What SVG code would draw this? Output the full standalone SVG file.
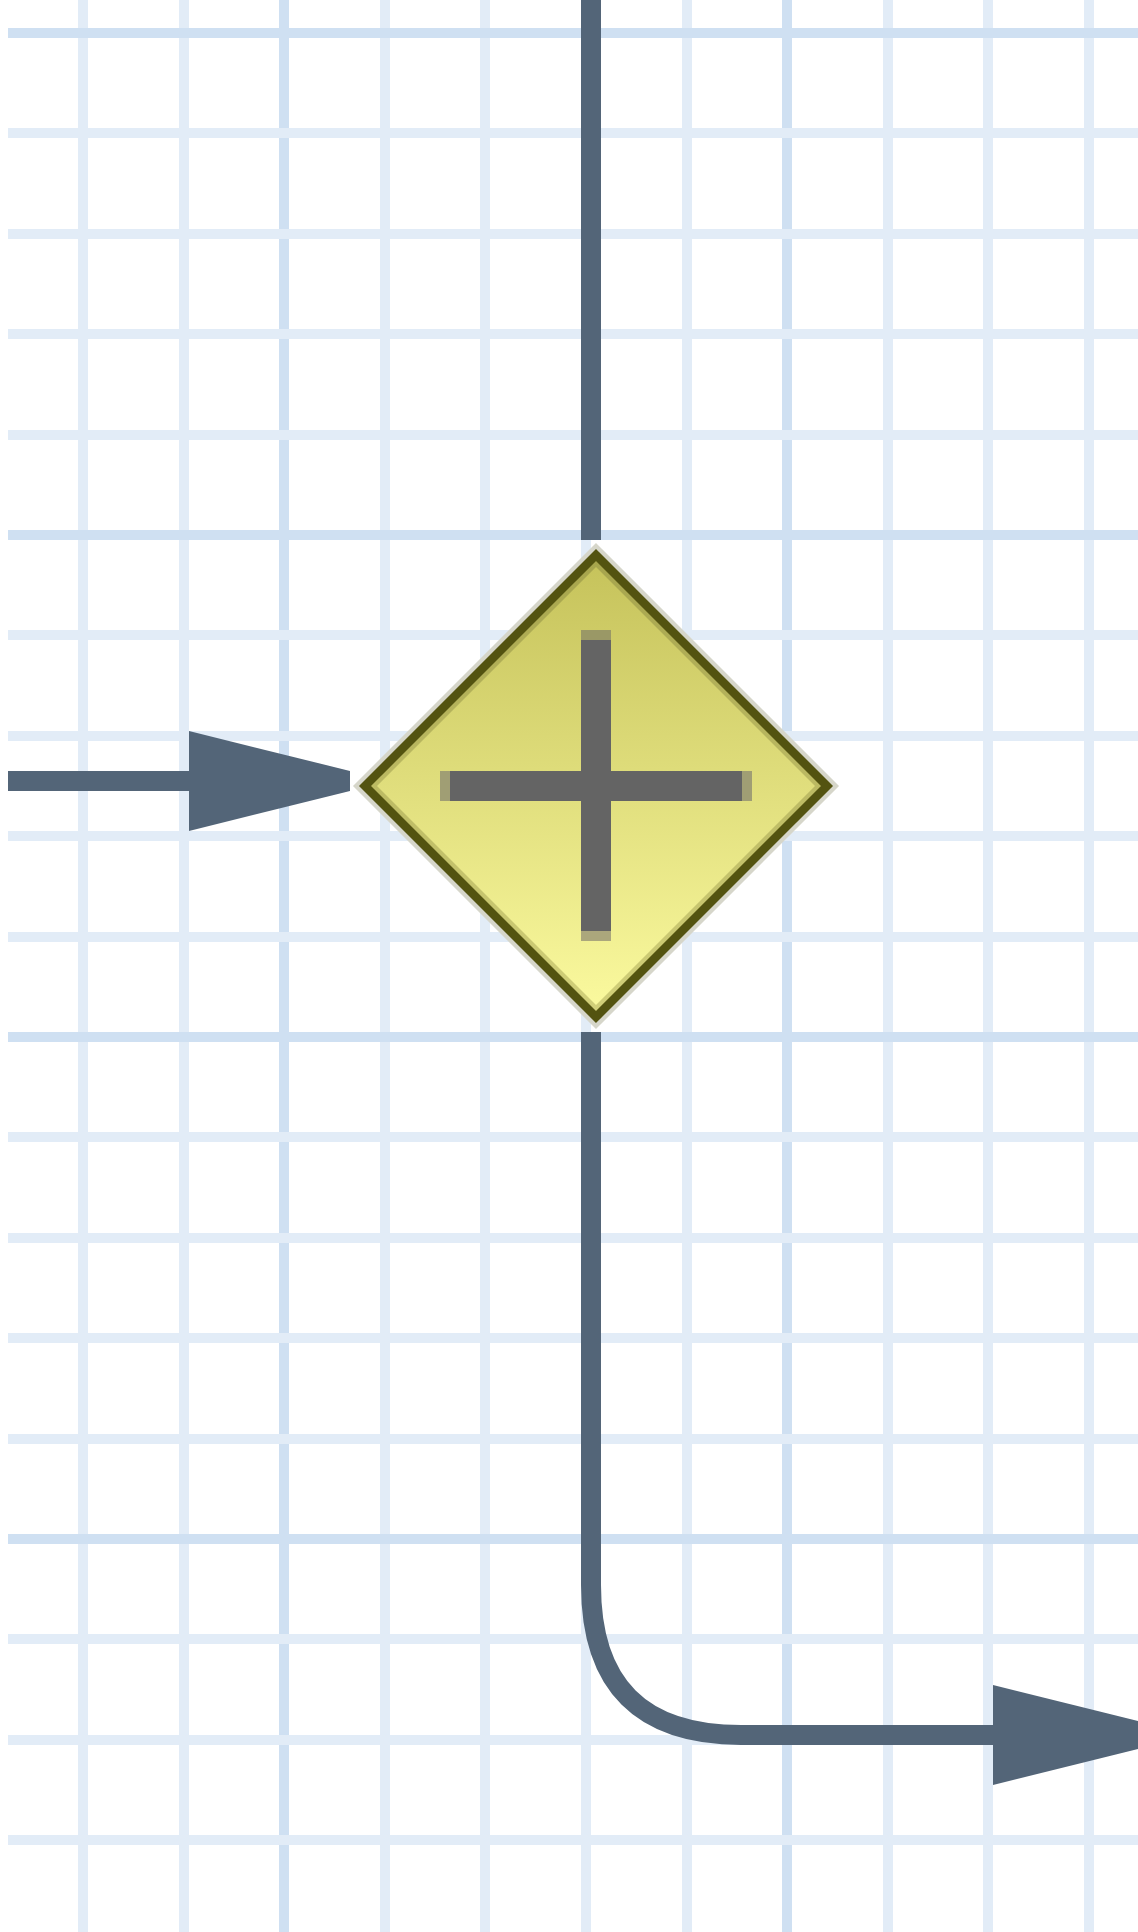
<svg xmlns="http://www.w3.org/2000/svg" width="1138" height="1932" viewBox="0 0 1138 1932">
  <defs>
    <style>
      .gl { fill: #e2ecf7; }
      .gd { fill: #cfe0f2; }
      .edge { fill: none; stroke: #536578; stroke-width: 20; stroke-linecap: butt; stroke-linejoin: round; }
      .head { fill: #536578; stroke: none; }
      .bar { fill: #646464; }
    </style>
    <linearGradient id="gwFill" x1="0" y1="555" x2="0" y2="1017" gradientUnits="userSpaceOnUse">
      <stop offset="0" stop-color="#c5c25a"/>
      <stop offset="1" stop-color="#fbfa9f"/>
    </linearGradient>
    <linearGradient id="gwInner" x1="0" y1="555" x2="0" y2="1017" gradientUnits="userSpaceOnUse">
      <stop offset="0" stop-color="#a6a44c"/>
      <stop offset="1" stop-color="#d2d07a"/>
    </linearGradient>
  </defs>
  <rect width="1138" height="1932" fill="#ffffff"/>
  <g id="grid">
    <rect class="gl" x="78" y="0" width="10" height="1932"/>
    <rect class="gl" x="179" y="0" width="10" height="1932"/>
    <rect class="gd" x="279" y="0" width="10" height="1932"/>
    <rect class="gl" x="380" y="0" width="10" height="1932"/>
    <rect class="gl" x="480" y="0" width="10" height="1932"/>
    <rect class="gl" x="581" y="0" width="10" height="1932"/>
    <rect class="gl" x="682" y="0" width="10" height="1932"/>
    <rect class="gd" x="782" y="0" width="10" height="1932"/>
    <rect class="gl" x="883" y="0" width="10" height="1932"/>
    <rect class="gl" x="983" y="0" width="10" height="1932"/>
    <rect class="gl" x="1084" y="0" width="10" height="1932"/>
    <rect class="gd" x="8" y="28" width="1130" height="10"/>
    <rect class="gl" x="8" y="128" width="1130" height="10"/>
    <rect class="gl" x="8" y="229" width="1130" height="10"/>
    <rect class="gl" x="8" y="329" width="1130" height="10"/>
    <rect class="gl" x="8" y="430" width="1130" height="10"/>
    <rect class="gd" x="8" y="530" width="1130" height="10"/>
    <rect class="gl" x="8" y="630" width="1130" height="10"/>
    <rect class="gl" x="8" y="731" width="1130" height="10"/>
    <rect class="gl" x="8" y="831" width="1130" height="10"/>
    <rect class="gl" x="8" y="932" width="1130" height="10"/>
    <rect class="gd" x="8" y="1032" width="1130" height="10"/>
    <rect class="gl" x="8" y="1132" width="1130" height="10"/>
    <rect class="gl" x="8" y="1233" width="1130" height="10"/>
    <rect class="gl" x="8" y="1333" width="1130" height="10"/>
    <rect class="gl" x="8" y="1434" width="1130" height="10"/>
    <rect class="gd" x="8" y="1534" width="1130" height="10"/>
    <rect class="gl" x="8" y="1634" width="1130" height="10"/>
    <rect class="gl" x="8" y="1735" width="1130" height="10"/>
    <rect class="gl" x="8" y="1835" width="1130" height="10"/>
  </g>
  <g id="connectors">
    <path class="edge" d="M591,0 L591,540"/>
    <path class="edge" d="M8,781 L300,781"/>
    <polygon class="head" points="189,731 350,771 350,791 189,831"/>
    <path class="edge" d="M591,1032 L591,1585 Q591,1735 741,1735 L1000,1735"/>
    <polygon class="head" points="993,1685 1154,1725 1154,1745 993,1785"/>
  </g>
  <g id="gateway">
    <polygon points="596,555 827,786 596,1017 365,786" fill="none" stroke="#d6d6ca" stroke-width="17" stroke-linejoin="miter"/>
    <polygon points="596,555 827,786 596,1017 365,786" fill="url(#gwInner)"/>
    <polygon points="596,567 815,786 596,1005 377,786" fill="url(#gwFill)"/>
    <polygon points="596,555 827,786 596,1017 365,786" fill="none" stroke="#535310" stroke-width="8.5" stroke-linejoin="miter"/>
    <rect class="bar" x="581" y="640" width="30" height="291"/>
    <rect x="581" y="630" width="30" height="10" fill="#9a9866"/>
    <rect x="581" y="931" width="30" height="10" fill="#aba77c"/>
    <rect class="bar" x="450" y="771" width="292" height="30"/>
    <rect x="440" y="771" width="10" height="30" fill="#a09e74"/>
    <rect x="742" y="771" width="10" height="30" fill="#a09e74"/>
  </g>
</svg>
